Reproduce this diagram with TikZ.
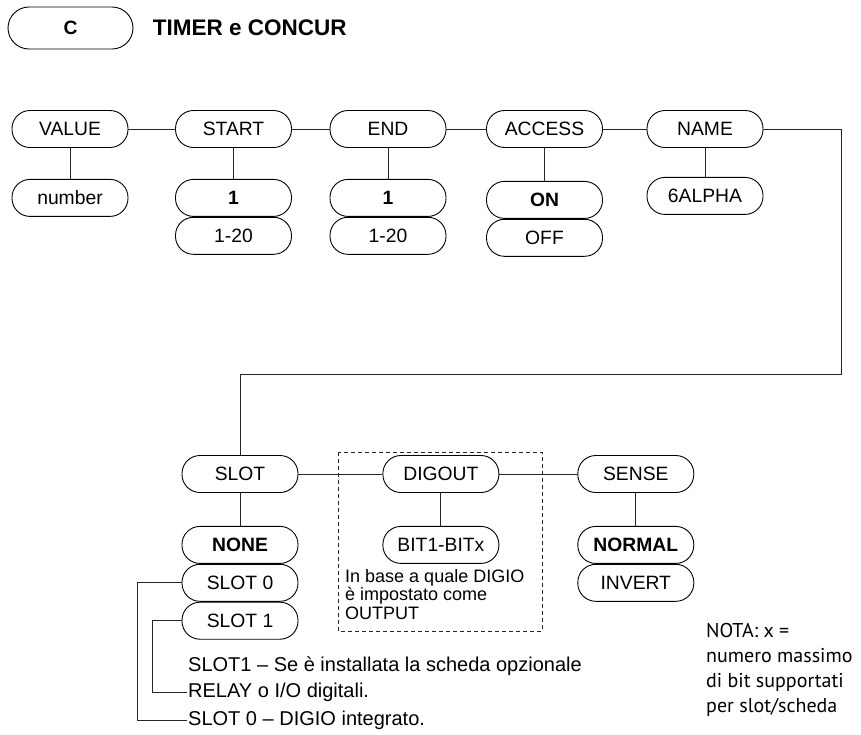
\documentclass[tikz,border=0pt]{standalone}
\usepackage{fontspec}
\setmainfont{Liberation Sans}
\newfontfamily\notafamily{PT Sans}
\usetikzlibrary{positioning}

\newcommand\lblfont{\fontsize{19.3}{22}\selectfont}
\newcommand\smallfont{\fontsize{18}{18.5}\selectfont}
\newcommand\notafont{\notafamily\fontsize{20}{25}\selectfont}

\begin{document}
\begin{tikzpicture}[
    x=1pt, y=-1pt,
    pill/.style={draw, line width=0.9pt, rounded corners=18pt,
                minimum height=37pt, minimum width=116pt, inner sep=0pt,
                font=\lblfont},
    dflt/.style={pill, font=\lblfont\bfseries},
    link/.style={line width=0.9pt, black!85},
    note/.style={anchor=west, inner sep=1pt, font=\fontsize{20}{22}\selectfont}
  ]
  \useasboundingbox (0,0) rectangle (861,734);

  % Menu header
  \node[pill, minimum width=125pt, minimum height=42pt, rounded corners=21pt,
        font=\lblfont\bfseries] (menu) at (70.5,28) {C};
  \node[right=16pt of menu, font=\fontsize{22.5}{26}\selectfont\bfseries] (title) {TIMER e CONCUR};

  % First level
  \node[pill] (value) at (70,129) {VALUE};
  \node[pill] (start) at (233.5,129) {START};
  \node[pill] (end) at (388,129) {END};
  \node[pill] (access) at (544.5,129) {ACCESS};
  \node[pill] (name) at (705,129) {NAME};

  \draw[link] (value) -- (start);
  \draw[link] (start) -- (end);
  \draw[link] (end) -- (access);
  \draw[link] (access) -- (name);

  % Choices
  \node[pill, below=31pt of value] (number) {number};
  \node[dflt, below=31pt of start] (startone) {1};
  \node[pill, below=0pt of startone] (startrange) {1-20};
  \node[dflt, below=31pt of end] (endone) {1};
  \node[pill, below=0pt of endone] (endrange) {1-20};
  \node[dflt, below=33pt of access] (on) {ON};
  \node[pill, below=0pt of on] (off) {OFF};
  \node[pill, below=29pt of name] (alpha) {6ALPHA};

  \draw[link] (value) -- (number);
  \draw[link] (start) -- (startone);
  \draw[link] (end) -- (endone);
  \draw[link] (access) -- (on);
  \draw[link] (name) -- (alpha);

  % Second level
  \node[pill] (slot) at (240,474) {SLOT};
  \node[pill, right=84pt of slot] (digout) {DIGOUT};
  \node[pill, right=78pt of digout] (sense) {SENSE};

  \coordinate (turn) at (841,374);
  \draw[link] (name.east) -| (turn) -| (slot.north);
  \draw[link] (slot) -- (digout);
  \draw[link] (digout) -- (sense);

  \node[dflt, below=33pt of slot] (none) {NONE};
  \node[pill, below=0pt of none] (slotzero) {SLOT 0};
  \node[pill, below=0pt of slotzero] (slotone) {SLOT 1};
  \node[pill, below=33pt of digout] (bits) {BIT1-BITx};
  \node[dflt, below=33pt of sense] (normal) {NORMAL};
  \node[pill, below=0pt of normal] (invert) {INVERT};

  \draw[link] (slot) -- (none);
  \draw[link] (digout) -- (bits);
  \draw[link] (sense) -- (normal);

  % DIGOUT frame
  \draw[link, line width=0.8pt, dash pattern=on 4pt off 3pt] (338,452) rectangle (542,631);
  \node[anchor=north west, align=left, inner sep=0pt, font=\smallfont] (bitnote)
    at (345,569) {In base a quale DIGIO\\è impostato come\\OUTPUT};

  % Slot notes
  \node[note] (noteonea) at (187,666) {SLOT1 – Se è installata la scheda opzionale};
  \node[note] (noteoneb) at (187,692) {RELAY o I/O digitali.};
  \node[note] (notezero) at (187,720) {SLOT 0 – DIGIO integrato.};

  \draw[link] (slotzero.west) -- ++(-44,0) |- (notezero.west);
  \draw[link] (slotone.west) -- ++(-29,0) |- (noteoneb.west);

  \node[anchor=north west, align=left, inner sep=0pt, font=\notafont] (nota)
    at (706,623) {NOTA: x =\\numero massimo\\di bit supportati\\per slot/scheda};

\end{tikzpicture}
\end{document}
